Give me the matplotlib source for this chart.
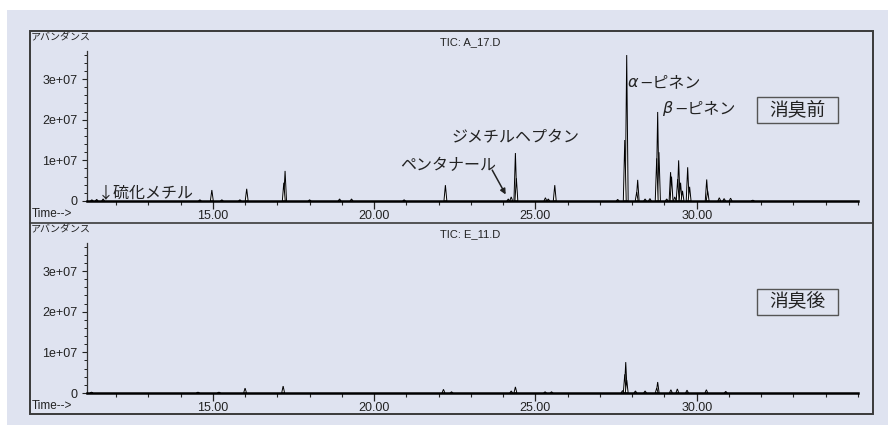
import matplotlib
matplotlib.use('Agg')
import matplotlib.pyplot as plt
from matplotlib.patches import Rectangle
from matplotlib.lines import Line2D
from matplotlib.ticker import MultipleLocator

plt.rcParams['font.family'] = ['Liberation Sans', 'Noto Sans CJK JP', 'DejaVu Sans']

W, H = 888, 425

# TIC before deodorizing (A_17.D): retention time [min], abundance
before_time = [11.25, 11.4, 11.6, 14.6, 14.97, 15.28, 15.84, 16.05, 17.2, 17.24,
               18.0, 18.93, 19.3, 20.93, 22.21, 24.16, 24.25, 24.38, 24.41, 25.31,
               25.4, 25.6, 27.55, 27.77, 27.83, 28.14, 28.17, 28.4, 28.55, 28.76,
               28.79, 28.83, 29.07, 29.19, 29.22, 29.32, 29.41, 29.44, 29.5, 29.56,
               29.72, 29.78, 30.31, 30.34, 30.7, 30.85, 31.05, 31.74]
before_abund = [0.03e7, 0.04e7, 0.05e7, 0.03e7, 0.27e7, 0.03e7, 0.03e7, 0.3e7, 0.45e7, 0.74e7,
                0.03e7, 0.05e7, 0.05e7, 0.03e7, 0.39e7, 0.05e7, 0.1e7, 1.18e7, 0.56e7, 0.08e7,
                0.05e7, 0.39e7, 0.04e7, 1.5e7, 3.59e7, 0.22e7, 0.52e7, 0.05e7, 0.06e7, 1.05e7,
                2.19e7, 1.2e7, 0.05e7, 0.71e7, 0.6e7, 0.1e7, 0.54e7, 1.0e7, 0.45e7, 0.25e7,
                0.83e7, 0.35e7, 0.53e7, 0.25e7, 0.08e7, 0.06e7, 0.07e7, 0.02e7]

# TIC after deodorizing (E_11.D)
after_time = [11.24, 14.54, 15.19, 16.0, 17.18, 22.15, 22.4, 24.25, 24.38, 25.3,
              25.5, 27.7, 27.77, 27.8, 27.83, 28.1, 28.4, 28.76, 28.79, 29.2,
              29.4, 29.7, 30.3, 30.9]
after_abund = [0.02e7, 0.02e7, 0.02e7, 0.12e7, 0.17e7, 0.09e7, 0.03e7, 0.05e7, 0.15e7, 0.03e7,
               0.03e7, 0.06e7, 0.46e7, 0.76e7, 0.32e7, 0.05e7, 0.05e7, 0.12e7, 0.27e7, 0.08e7,
               0.1e7, 0.07e7, 0.08e7, 0.04e7]

x_ticks = [15, 20, 25, 30]
x_tick_labels = ['15.00', '20.00', '25.00', '30.00']
y_ticks = [0, 1e7, 2e7, 3e7]
y_tick_labels = ['0', '1e+07', '2e+07', '3e+07']
titles = ['TIC: A_17.D', 'TIC: E_11.D']
sample_labels = ['消臭前', '消臭後']

PEAK_HW = 0.045
BG = '#dfe3f0'
FRAME = '#3a3a3a'


def fx(x):
    return x / W


def fy(y):
    return 1 - y / H


fig = plt.figure(figsize=(W / 100, H / 100), dpi=100)
fig.patch.set_facecolor('white')

# lavender background + outer frame
fig.patches.append(Rectangle((fx(7), 0), 1 - fx(7), fy(10), transform=fig.transFigure,
                             fc=BG, ec='none', zorder=-5))
fig.patches.append(Rectangle((fx(30), fy(414)), fx(873) - fx(30), fy(31) - fy(414),
                             transform=fig.transFigure, fc='none', ec=FRAME, lw=1.4, zorder=1))
fig.lines.append(Line2D([fx(30), fx(873)], [fy(223), fy(223)], transform=fig.transFigure,
                        color=FRAME, lw=1.2))


def draw_panel(zero_px, times, abund, title, label, top_px):
    ax = fig.add_axes([fx(87), fy(zero_px), fx(858) - fx(87), (150) / H])
    ax.patch.set_alpha(0)
    for t, a in sorted(zip(times, abund), key=lambda p: -p[1]):
        ax.fill([t - PEAK_HW, t, t + PEAK_HW], [0, a, 0], fc='#f6f6f6', ec='black', lw=0.7)
    ax.set_xlim(11.1, 35.0)
    ax.set_ylim(0, 3.69e7)
    for s in ['top', 'right']:
        ax.spines[s].set_visible(False)
    ax.spines['bottom'].set_linewidth(1.8)
    ax.spines['bottom'].set_color('black')
    ax.spines['left'].set_linewidth(0.9)
    ax.spines['left'].set_color('#333333')
    ax.set_xticks(x_ticks, x_tick_labels)
    ax.xaxis.set_minor_locator(MultipleLocator(1))
    ax.set_yticks(y_ticks, y_tick_labels)
    ax.yaxis.set_minor_locator(MultipleLocator(2e6))
    ax.tick_params(axis='x', which='major', length=6, width=0.9, pad=0.5, labelsize=9,
                   colors='#222222')
    ax.tick_params(axis='x', which='minor', length=3, width=0.8, colors='#222222')
    ax.tick_params(axis='y', which='major', length=3.5, width=0.8, pad=3.5, labelsize=9,
                   colors='#222222')
    ax.tick_params(axis='y', which='minor', length=2, width=0.7, colors='#222222')

    fig.text(fx(31), fy(top_px + 6), 'アバンダンス', fontsize=7.2, family='Noto Sans CJK JP',
             va='center', ha='left', color='#222222')
    fig.text(fx(470), fy(top_px + 11), title, fontsize=8, ha='center', va='center',
             color='#222222')
    fig.text(fx(32), fy(zero_px + 13), 'Time-->', fontsize=8.5, ha='left', va='center',
             color='#222222')
    # sample label box
    fig.patches.append(Rectangle((fx(757), fy(top_px + 92)), fx(838) - fx(757), 26 / H,
                                 transform=fig.transFigure, fc='none', ec='#555555', lw=1))
    fig.text(fx(797.5), fy(top_px + 79), label, fontsize=13.5, family='Noto Sans CJK JP',
             ha='center', va='center', color='#222222')
    return ax


ax1 = draw_panel(201, before_time, before_abund, titles[0], sample_labels[0], 31)
ax2 = draw_panel(393, after_time, after_abund, titles[1], sample_labels[1], 223)

jp = ['Noto Sans CJK JP', 'DejaVu Sans']
greek = ['DejaVu Sans', 'Noto Sans CJK JP']
ax1.text(27.86, 2.92e7, 'α', fontsize=11.5, family=greek, style='italic',
         va='center', ha='left', color='#222222')
ax1.text(28.22, 2.92e7, '−ピネン', fontsize=11.5, family=greek,
         va='center', ha='left', color='#222222')
ax1.text(28.91, 2.28e7, 'β', fontsize=11.5, family=greek, style='italic',
         va='center', ha='left', color='#222222')
ax1.text(29.3, 2.28e7, '−ピネン', fontsize=11.5, family=greek,
         va='center', ha='left', color='#222222')
ax1.text(22.39, 1.57e7, 'ジメチルヘプタン', fontsize=11.5, family=jp, va='center', ha='left',
         color='#222222')
ax1.text(20.8, 0.88e7, 'ペンタナール', fontsize=11.5, family=jp, va='center', ha='left',
         color='#222222')
ax1.annotate('', xy=(24.12, 0.1e7), xytext=(23.62, 0.82e7),
             arrowprops=dict(arrowstyle='-|>', color='#222222', lw=1.1, mutation_scale=8))
ax1.text(11.42, 0.2e7, '↓硫化メチル', fontsize=11.5, family=jp, va='center', ha='left',
         color='#222222')

fig.savefig('out.png', dpi=100, facecolor='white')
